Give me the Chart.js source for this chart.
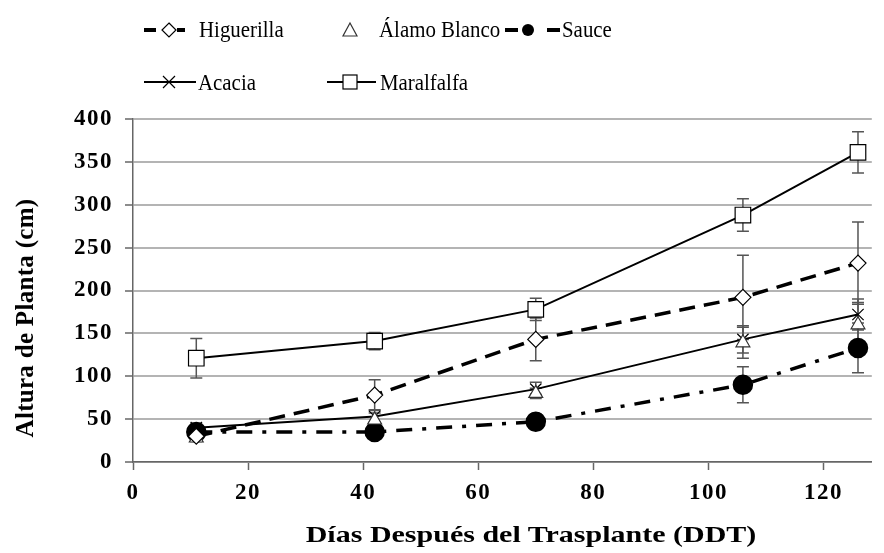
<!DOCTYPE html>
<html>
<head>
<meta charset="utf-8">
<script src="https://cdn.jsdelivr.net/npm/chart.js@4.4.1/dist/chart.umd.min.js"></script>
<style>
  body { margin: 0; background: #fff; }
  #wrap { position: relative; width: 884px; height: 553px; overflow: hidden; }
  #myChart { position: absolute; left: 0; top: 0; }
  .leg { position: absolute; font: 24px 'Liberation Serif', serif; line-height: 24px; color: #000; white-space: nowrap;
    transform: scaleX(0.87); transform-origin: 0 0; }
  #xTitle { position: absolute; left: 231px; top: 522px; width: 600px; text-align: center;
    font: bold 24px 'Liberation Serif', serif; line-height: 24px; transform: scaleX(1.25); }
  #yTitle { position: absolute; left: -125px; top: 303px; width: 300px; height: 30px; text-align: center;
    font: bold 25px 'Liberation Serif', serif; line-height: 30px; letter-spacing: 0.3px; transform: rotate(-90deg); }
  #legSvg { position: absolute; left: 0; top: 0; }
</style>
</head>
<body>
<div id="wrap">
  <canvas id="myChart" width="884" height="553"></canvas>
  <svg id="legSvg" width="884" height="110">
    <!-- Higuerilla -->
    <line x1="144" y1="30" x2="156" y2="30" stroke="#000" stroke-width="4"/>
    <polygon points="169,23 176,30 169,37 162,30" fill="#fff" stroke="#000" stroke-width="1.2"/>
    <line x1="177" y1="30" x2="185" y2="30" stroke="#000" stroke-width="4"/>
    <!-- Alamo Blanco -->
    <polygon points="350,23 357,36 343,36" fill="#fff" stroke="#333" stroke-width="1.2"/>
    <!-- Sauce -->
    <line x1="505" y1="30" x2="518" y2="30" stroke="#000" stroke-width="4"/>
    <circle cx="528" cy="30" r="6" fill="#000"/>
    <line x1="547" y1="30" x2="560" y2="30" stroke="#000" stroke-width="4"/>
    <!-- Acacia -->
    <line x1="144" y1="82" x2="196" y2="82" stroke="#000" stroke-width="2"/>
    <path d="M163 76 L175 88 M175 76 L163 88" stroke="#000" stroke-width="1.2"/>
    <!-- Maralfalfa -->
    <line x1="327" y1="82" x2="376" y2="82" stroke="#000" stroke-width="2"/>
    <rect x="343" y="75" width="14" height="14" fill="#fff" stroke="#000" stroke-width="1.2"/>
  </svg>
  <div class="leg" style="left:199px;top:17px">Higuerilla</div>
  <div class="leg" style="left:379px;top:17px">Álamo Blanco</div>
  <div class="leg" style="left:562px;top:17px">Sauce</div>
  <div class="leg" style="left:198px;top:70px">Acacia</div>
  <div class="leg" style="left:380px;top:70px">Maralfalfa</div>
  <div id="xTitle">Días Después del Trasplante (DDT)</div>
  <div id="yTitle">Altura de Planta (cm)</div>
</div>
<script>
// días después del trasplante
const days = [11, 42, 70, 106, 126];

// altura de planta (cm) y error
const higuerilla = [30, 78, 143, 192, 232];
const higuerillaErr = [4, 18, 25, 49, 48];
const alamo = [28, 49, 80, 139, 160];
const alamoErr = [4, 8, 6, 18, 26];
const sauce = [35, 35, 47, 90, 133];
const sauceErr = [4, 4, 9, 21, 29];
const acacia = [40, 53, 85, 143, 172];
const acaciaErr = [5, 8, 8, 16, 18];
const maralfalfa = [121, 141, 178, 288, 361];
const maralfalfaErr = [23, 10, 13, 19, 24];

const xTicks = { min: 0, max: 128.4, step: 20 };
const yTicks = { min: 0, max: 400, step: 50 };

const pts = (ys) => days.map((d, i) => ({ x: d, y: ys[i] }));

// error bars, drawn under the markers
const errorBars = {
  id: 'errorBars',
  beforeDatasetsDraw(chart) {
    const { ctx, scales: { x, y } } = chart;
    ctx.save();
    ctx.strokeStyle = '#555';
    ctx.lineWidth = 1.5;
    chart.data.datasets.forEach(ds => {
      ds.data.forEach((p, i) => {
        const e = ds.err[i];
        const px = x.getPixelForValue(p.x);
        const t = y.getPixelForValue(p.y + e);
        const b = y.getPixelForValue(p.y - e);
        ctx.beginPath();
        ctx.moveTo(px, t); ctx.lineTo(px, b);
        ctx.moveTo(px - 6, t); ctx.lineTo(px + 6, t);
        ctx.moveTo(px - 6, b); ctx.lineTo(px + 6, b);
        ctx.stroke();
      });
    });
    ctx.restore();
  }
};

// the tick labels in the picture are a bit spread out
const spacing = {
  id: 'spacing',
  beforeDraw(chart) { chart.ctx.letterSpacing = '1.5px'; }
};

const data = {
  datasets: [{
    label: 'Higuerilla',
    data: pts(higuerilla),
    err: higuerillaErr,
    borderColor: '#000',
    borderWidth: 3.5,
    borderDash: [16, 9],
    pointStyle: 'rectRot',
    pointRadius: 8,
    pointBackgroundColor: '#fff',
    pointBorderColor: '#000',
    pointBorderWidth: 1.2,
    showLine: true
  }, {
    label: 'Álamo Blanco',
    data: pts(alamo),
    err: alamoErr,
    borderColor: '#333',
    pointStyle: 'triangle',
    pointRadius: 8,
    pointBackgroundColor: '#fff',
    pointBorderColor: '#333',
    pointBorderWidth: 1.2,
    showLine: false
  }, {
    label: 'Sauce',
    data: pts(sauce),
    err: sauceErr,
    borderColor: '#000',
    borderWidth: 3.5,
    borderDash: [16, 10, 4, 10],
    pointStyle: 'circle',
    pointRadius: 8.5,
    pointBackgroundColor: '#000',
    pointBorderColor: '#000',
    showLine: true
  }, {
    label: 'Acacia',
    data: pts(acacia),
    err: acaciaErr,
    borderColor: '#000',
    borderWidth: 2,
    pointStyle: 'crossRot',
    pointRadius: 8,
    pointBorderColor: '#000',
    pointBorderWidth: 1.2,
    showLine: true
  }, {
    label: 'Maralfalfa',
    data: pts(maralfalfa),
    err: maralfalfaErr,
    borderColor: '#000',
    borderWidth: 2,
    pointStyle: 'rect',
    pointRadius: 11,
    pointBackgroundColor: '#fff',
    pointBorderColor: '#000',
    pointBorderWidth: 1.2,
    showLine: true
  }]
};

const tickFont = { family: 'Liberation Serif', size: 23, weight: 'bold' };

const config = {
  type: 'scatter',
  data: data,
  options: {
    responsive: false,
    animation: false,
    devicePixelRatio: 1,
    layout: { padding: { top: 119, left: 0, right: 0, bottom: 0 } },
    plugins: { legend: { display: false }, tooltip: { enabled: false } },
    scales: {
      x: {
        type: 'linear',
        min: xTicks.min,
        max: xTicks.max,
        grid: { drawOnChartArea: false, tickLength: 8, tickColor: '#666', tickWidth: 1.5 },
        border: { color: '#666', width: 1.5 },
        ticks: { stepSize: xTicks.step, includeBounds: false, font: tickFont, color: '#000', padding: 9, maxRotation: 0 },
        afterFit: s => { s.height = 91; }
      },
      y: {
        min: yTicks.min,
        max: yTicks.max,
        grid: { color: '#b4b4b4', lineWidth: 2, tickLength: 8, tickColor: '#666', tickWidth: 1.5 },
        border: { color: '#666', width: 1.5 },
        ticks: { stepSize: yTicks.step, font: tickFont, color: '#000', padding: 12 },
        afterFit: s => { s.width = 133; }
      }
    }
  },
  plugins: [errorBars, spacing]
};

const myChart = new Chart(document.getElementById('myChart'), config);
</script>
</body>
</html>
